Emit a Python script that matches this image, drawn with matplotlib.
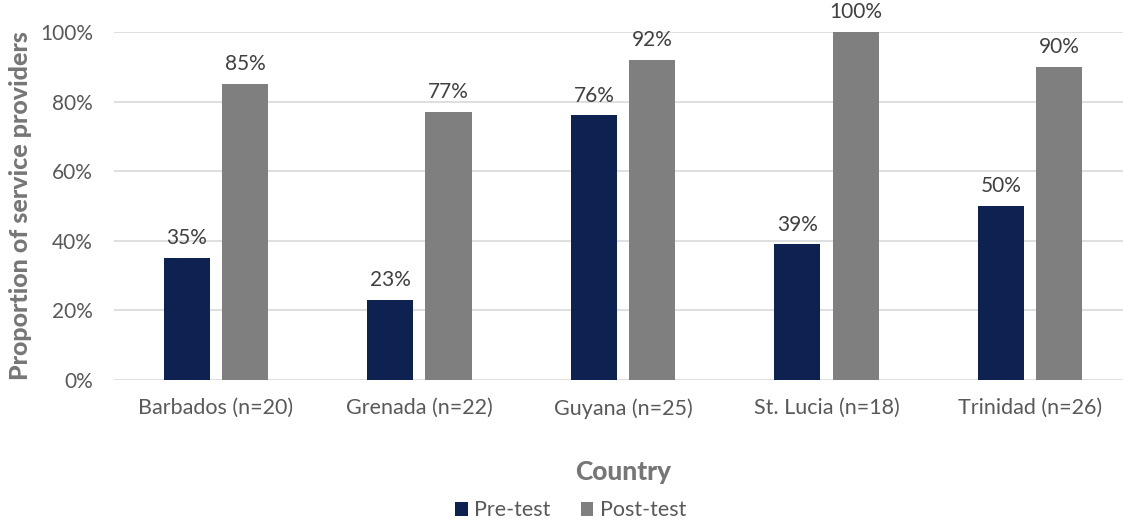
import numpy as np
import matplotlib.pyplot as plt

# data
countries = ['Barbados (n=20)', 'Grenada (n=22)', 'Guyana (n=25)', 'St. Lucia (n=18)', 'Trinidad (n=26)']
pre_test = [35, 23, 76, 39, 50]
post_test = [85, 77, 92, 100, 90]

plt.rcParams['font.family'] = ['Lato', 'DejaVu Sans']

navy = '#0E2251'
grey = '#7F7F7F'
txt = '#595959'

fig = plt.figure(figsize=(11.23, 5.25), dpi=100)
ax = fig.add_axes([0.1015, 0.2762, 0.9065, 0.6629])

x = np.arange(len(countries))
w = 0.226
off = w / 2 + 0.03

b1 = ax.bar(x - off, pre_test, w, color=navy, label='Pre-test', zorder=3)
b2 = ax.bar(x + off, post_test, w, color=grey, label='Post-test', zorder=3)

for bars in (b1, b2):
    for b in bars:
        ax.annotate(f'{b.get_height():.0f}%', (b.get_x() + b.get_width() / 2, b.get_height()),
                    xytext=(0, 7), textcoords='offset points', ha='center', va='bottom',
                    fontsize=15, color='#404040')

ax.set_xlim(-0.5, len(countries) - 0.5)
ax.set_ylim(0, 100)
ax.set_yticks(range(0, 101, 20))
ax.set_yticklabels([f'{v}%' for v in range(0, 101, 20)])
ax.set_xticks(x)
ax.set_xticklabels(countries)
ax.tick_params(axis='both', length=0, labelsize=15, labelcolor=txt)
ax.tick_params(axis='x', labelsize=15.5, pad=13)
ax.tick_params(axis='y', pad=15)
ax.grid(axis='y', color='#D9D9D9', linewidth=1.2, zorder=0)
for s in ['top', 'right', 'left', 'bottom']:
    ax.spines[s].set_visible(False)

ax.set_ylabel('Proportion of service providers', fontsize=18, fontweight='black', color='#767676', labelpad=6)
ax.set_xlabel('Country', fontsize=19, fontweight='black', color='#767676', labelpad=30)

fig.legend(loc='lower center', bbox_to_anchor=(0.508, -0.028), ncol=2, frameon=False,
           fontsize=15.5, labelcolor=txt, handlelength=0.6, handleheight=0.6,
           handletextpad=0.3, columnspacing=1.4)

fig.savefig('out.png', dpi=100)
